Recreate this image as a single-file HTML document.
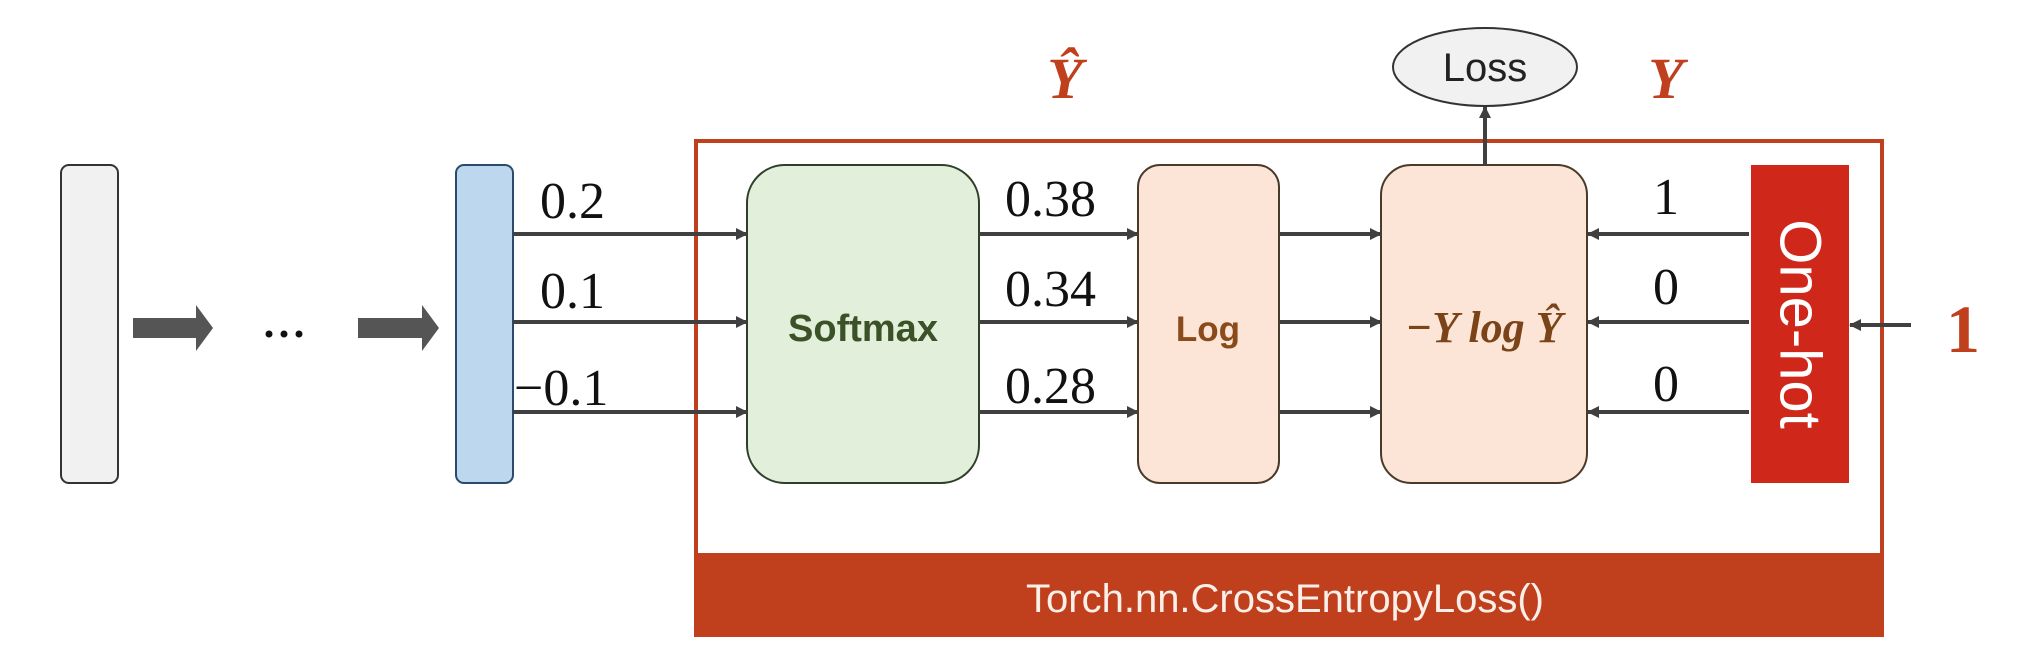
<!DOCTYPE html>
<html><head><meta charset="utf-8"><style>
html,body{margin:0;padding:0;background:#fff;}
svg{display:block;}
</style></head><body>
<svg width="2025" height="652" viewBox="0 0 2025 652" xmlns="http://www.w3.org/2000/svg">
<defs>
<marker id="ah" markerWidth="12" markerHeight="12" refX="11" refY="6" orient="auto" markerUnits="userSpaceOnUse">
<path d="M0,0 L12,6 L0,12 Z" fill="#404040"/>
</marker>
</defs>
<rect x="61" y="165" width="57" height="318" rx="8" fill="#f1f1f1" stroke="#333" stroke-width="2"/>
<path d="M133,318 L196,318 L196,305 L213,328 L196,351 L196,338 L133,338 Z" fill="#555"/>
<g fill="#111"><circle cx="269" cy="334" r="3.5"/><circle cx="284" cy="334" r="3.5"/><circle cx="299" cy="334" r="3.5"/></g>
<path d="M358,318 L422,318 L422,305 L439,328 L422,351 L422,338 L358,338 Z" fill="#555"/>
<rect x="456" y="165" width="57" height="318" rx="8" fill="#bdd7ee" stroke="#2a4b6e" stroke-width="2"/>
<rect x="696" y="141" width="1186" height="494" fill="#fff" stroke="#c0401e" stroke-width="4"/>
<rect x="694" y="553" width="1190" height="84" fill="#c0401e"/>
<text x="1285" y="612" font-family="Liberation Sans, sans-serif" font-size="40" text-anchor="middle" fill="#fbefe9">Torch.nn.CrossEntropyLoss()</text>
<rect x="747" y="165" width="232" height="318" rx="38" fill="#e2efda" stroke="#2f3f2a" stroke-width="2"/>
<text x="863" y="341" font-family="Liberation Sans, sans-serif" font-weight="bold" font-size="38" text-anchor="middle" fill="#3b5228">Softmax</text>
<rect x="1138" y="165" width="141" height="318" rx="22" fill="#fce4d6" stroke="#4a3a2a" stroke-width="2"/>
<text x="1208" y="341" font-family="Liberation Sans, sans-serif" font-weight="bold" font-size="35" text-anchor="middle" fill="#8a4a1a">Log</text>
<rect x="1381" y="165" width="206" height="318" rx="30" fill="#fce4d6" stroke="#4a3a2a" stroke-width="2"/>
<text x="1484" y="342" font-family="Liberation Serif, serif" font-weight="bold" font-style="italic" font-size="44" text-anchor="middle" fill="#7a4418">−Y log Ŷ</text>
<rect x="1751" y="165" width="98" height="318" fill="#d0271b"/>
<text transform="translate(1800,324) rotate(90)" font-family="Liberation Sans, sans-serif" font-size="58" text-anchor="middle" dominant-baseline="central" fill="#fff">One-hot</text>
<g stroke="#404040" stroke-width="4" fill="none">
<line x1="513" y1="234" x2="747" y2="234" marker-end="url(#ah)"/>
<line x1="513" y1="322" x2="747" y2="322" marker-end="url(#ah)"/>
<line x1="513" y1="412" x2="747" y2="412" marker-end="url(#ah)"/>
<line x1="979" y1="234" x2="1138" y2="234" marker-end="url(#ah)"/>
<line x1="979" y1="322" x2="1138" y2="322" marker-end="url(#ah)"/>
<line x1="979" y1="412" x2="1138" y2="412" marker-end="url(#ah)"/>
<line x1="1279" y1="234" x2="1381" y2="234" marker-end="url(#ah)"/>
<line x1="1279" y1="322" x2="1381" y2="322" marker-end="url(#ah)"/>
<line x1="1279" y1="412" x2="1381" y2="412" marker-end="url(#ah)"/>
<line x1="1749" y1="234" x2="1588" y2="234" marker-end="url(#ah)"/>
<line x1="1749" y1="322" x2="1588" y2="322" marker-end="url(#ah)"/>
<line x1="1749" y1="412" x2="1588" y2="412" marker-end="url(#ah)"/>
<line x1="1911" y1="325" x2="1850" y2="325" marker-end="url(#ah)"/>
<line x1="1485" y1="165" x2="1485" y2="107" marker-end="url(#ah)"/>
</g>
<g font-family="Liberation Serif, serif" font-size="52" fill="#111">
<text x="540" y="218">0.2</text>
<text x="540" y="308">0.1</text>
<text x="514" y="405">−0.1</text>
<text x="1005" y="216">0.38</text>
<text x="1005" y="306">0.34</text>
<text x="1005" y="403">0.28</text>
<text x="1666" y="214" text-anchor="middle">1</text>
<text x="1666" y="304" text-anchor="middle">0</text>
<text x="1666" y="401" text-anchor="middle">0</text>
</g>
<ellipse cx="1485" cy="67" rx="92" ry="39" fill="#f1f1f1" stroke="#333" stroke-width="2"/>
<text x="1485" y="81" font-family="Liberation Sans, sans-serif" font-size="40" text-anchor="middle" fill="#222">Loss</text>
<text x="1065" y="98" font-family="Liberation Serif, serif" font-style="italic" font-weight="bold" font-size="58" text-anchor="middle" fill="#c0401e">Ŷ</text>
<text x="1666" y="98" font-family="Liberation Serif, serif" font-style="italic" font-weight="bold" font-size="58" text-anchor="middle" fill="#c0401e">Y</text>
<text x="1963" y="352" font-family="Liberation Serif, serif" font-weight="bold" font-size="68" text-anchor="middle" fill="#c0401e">1</text>
</svg>
</body></html>
